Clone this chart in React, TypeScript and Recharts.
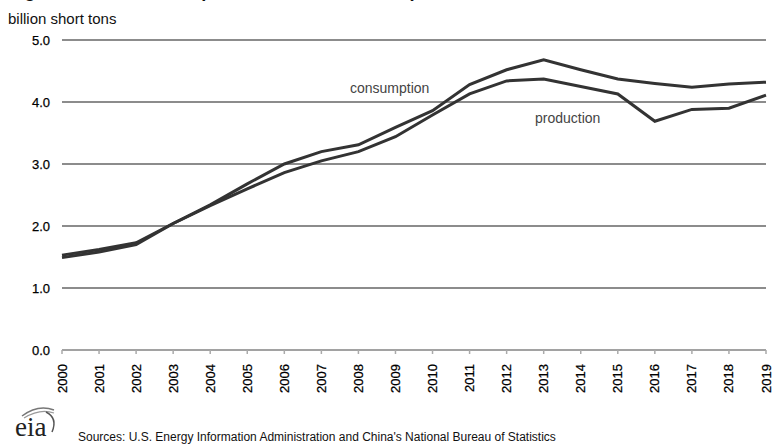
import React from 'react';
import { LineChart, Line, XAxis, YAxis, CartesianGrid } from 'recharts';

const years = [
  '2000', '2001', '2002', '2003', '2004', '2005', '2006', '2007', '2008', '2009',
  '2010', '2011', '2012', '2013', '2014', '2015', '2016', '2017', '2018', '2019',
];
const consumption = [
  1.53, 1.62, 1.73, 2.04, 2.34, 2.68, 3.0, 3.2, 3.31, 3.59,
  3.86, 4.28, 4.52, 4.68, 4.52, 4.37, 4.3, 4.24, 4.29, 4.32,
];
const production = [
  1.49, 1.58, 1.7, 2.04, 2.33, 2.6, 2.86, 3.05, 3.2, 3.44,
  3.79, 4.13, 4.34, 4.37, 4.25, 4.13, 3.69, 3.88, 3.9, 4.11,
];
const yTicks = [0, 1, 2, 3, 4, 5];

const data = years.map((year, i) => ({
  year,
  consumption: consumption[i],
  production: production[i],
}));

const FONT = '"Liberation Sans", Arial, Helvetica, sans-serif';

const YearTick = (props: any) => {
  const { x, y, payload } = props;
  return (
    <text
      x={0}
      y={0}
      transform={`translate(${x},${y + 8}) rotate(-90)`}
      textAnchor="end"
      dominantBaseline="central"
      style={{ fontFamily: FONT, fontSize: 13, fill: '#000', stroke: '#000', strokeWidth: 0.25 }}
    >
      {payload.value}
    </text>
  );
};

const EiaLogo = () => (
  <svg width={50} height={40} style={{ position: 'absolute', left: 12, top: 402 }}>
    <path d="M10 14 Q26 2 42 8" stroke="#777" strokeWidth={1.5} fill="none" />
    <path d="M12 16 Q28 6 42 11" stroke="#999" strokeWidth={1.2} fill="none" />
    <path d="M34 10 Q46 16 40 30" stroke="#555" strokeWidth={1.5} fill="none" />
    <text x={3} y={34} style={{ fontFamily: '"Liberation Serif", "DejaVu Serif", serif', fontSize: 27, fill: '#222' }}>
      eia
    </text>
  </svg>
);

export default function App() {
  return (
    <div style={{ position: 'absolute', left: 0, top: 0, width: 772, height: 447, background: '#fff', overflow: 'hidden', fontFamily: FONT }}>
      <div style={{ position: 'absolute', left: 8, top: -19, fontSize: 18.3, fontWeight: 'bold', color: '#111', whiteSpace: 'nowrap', lineHeight: '20px' }}>
        Figure 1. China's coal production and consumption, 2000–2019
      </div>
      <div style={{ position: 'absolute', left: 8, top: 10, fontSize: 15, color: '#111', whiteSpace: 'nowrap' }}>
        billion short tons
      </div>
      <LineChart width={772} height={447} data={data} margin={{ top: 40, right: 6, bottom: 57, left: 0 }}>
        <CartesianGrid vertical={false} stroke="#666" strokeWidth={1.5} />
        <XAxis
          dataKey="year"
          interval={0}
          height={40}
          tick={<YearTick />}
          tickSize={4}
          axisLine={{ stroke: '#aaa', strokeWidth: 1.5 }}
          tickLine={{ stroke: '#aaa', strokeWidth: 1.5 }}
        />
        <YAxis
          domain={[0, 5]}
          ticks={yTicks}
          width={62}
          axisLine={false}
          tickLine={false}
          tickSize={6}
          tickMargin={6}
          tickFormatter={(v: number) => v.toFixed(1)}
          tick={{ fontFamily: FONT, fontSize: 13, fill: '#000', stroke: '#000', strokeWidth: 0.25 }}
        />
        <Line type="linear" dataKey="consumption" stroke="#333" strokeWidth={3} dot={false} isAnimationActive={false} />
        <Line type="linear" dataKey="production" stroke="#333" strokeWidth={3} dot={false} isAnimationActive={false} />
      </LineChart>
      <div style={{ position: 'absolute', left: 350, top: 80, fontSize: 14, color: '#444', whiteSpace: 'nowrap' }}>consumption</div>
      <div style={{ position: 'absolute', left: 535, top: 110, fontSize: 14, color: '#444', whiteSpace: 'nowrap' }}>production</div>
      <EiaLogo />
      <div style={{ position: 'absolute', left: 78, top: 430, fontSize: 12, color: '#111', whiteSpace: 'nowrap' }}>
        Sources: U.S. Energy Information Administration and China's National Bureau of Statistics
      </div>
    </div>
  );
}
